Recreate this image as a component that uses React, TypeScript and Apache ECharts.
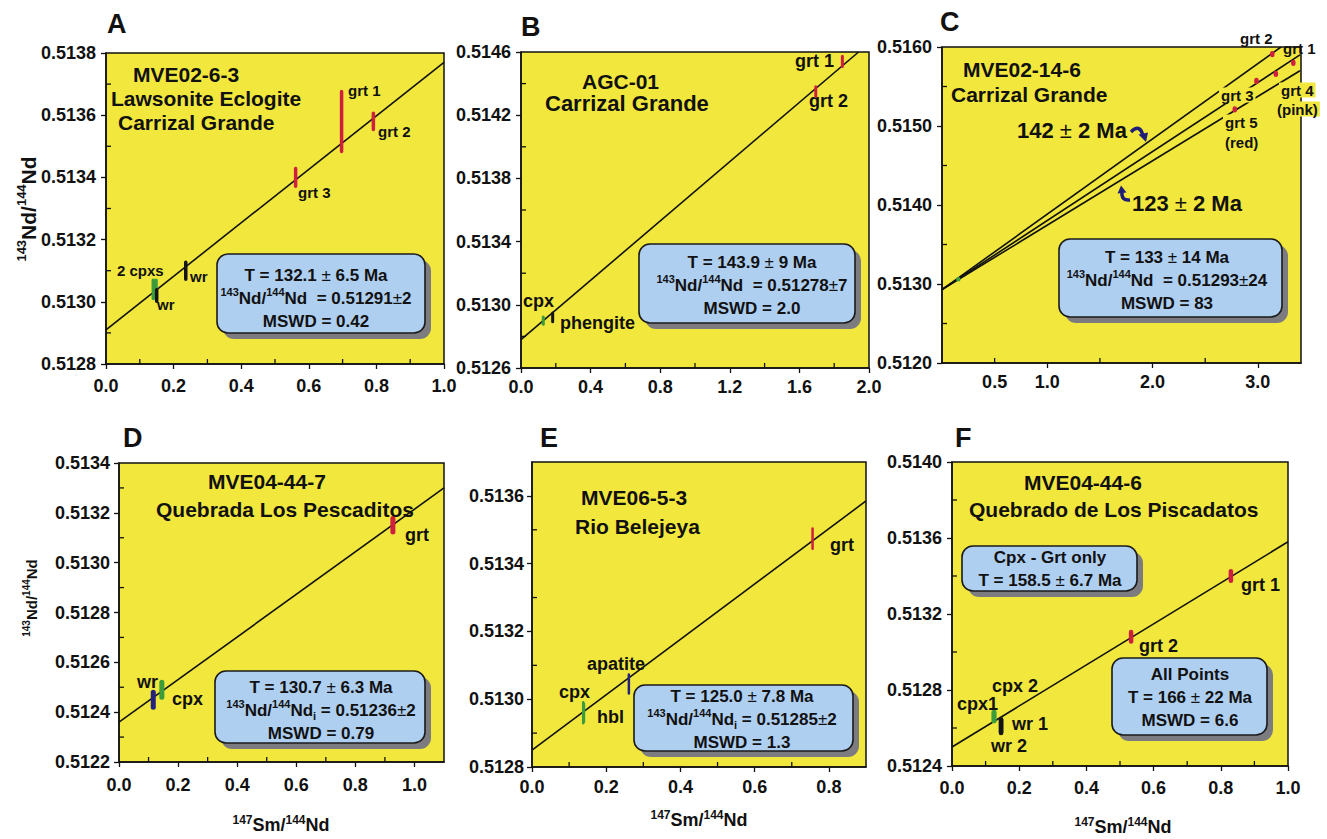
import React, { useEffect, useRef } from 'react';
import * as echarts from 'echarts';

const FF = '"Liberation Sans", Arial, Helvetica, sans-serif';
const INK = '#111111';
const YELLOW = '#f2e83d';
const BOX_BLUE = '#afcff1';
const SHADOW = '#7c7c80';
const NAVY = '#1f1f78';
const KIND_COLORS: Record<string, string> = { grt: '#cf1f3f', cpx: '#3c9c3c', wr: '#23237e', blk: '#141414' };

// ---------- Panel A : MVE02-6-3 ----------
const aSm = [0.14, 0.148, 0.15, 0.236, 0.561, 0.697, 0.791];
const aNd = [0.51304, 0.51304, 0.51302, 0.5131, 0.5134, 0.51358, 0.51358];
const aErr = [0.000035, 0.000035, 0.000024, 0.000033, 0.000034, 0.000102, 0.000032];
const aKind = ['cpx', 'cpx', 'blk', 'blk', 'grt', 'grt', 'grt'];
const aLineSm = [0, 1.0];
const aLineNd = [0.51291, 0.51377];
const aXTicks = [0, 0.2, 0.4, 0.6, 0.8, 1.0];
const aXMinor = [0.1, 0.3, 0.5, 0.7, 0.9];
const aYTicks = [0.5128, 0.513, 0.5132, 0.5134, 0.5136, 0.5138];
const aYMinor = [0.5129, 0.5131, 0.5133, 0.5135, 0.5137];

// ---------- Panel B : AGC-01 ----------
const bSm = [0.128, 0.182, 1.694, 1.847];
const bNd = [0.5129, 0.51292, 0.51435, 0.51454];
const bErr = [0.000032, 0.000037, 0.000039, 0.000042];
const bKind = ['cpx', 'blk', 'grt', 'grt'];
const bLineSm = [0, 1.94];
const bLineNd = [0.51278, 0.5146];
const bXTicks = [0, 0.4, 0.8, 1.2, 1.6, 2.0];
const bXMinor = [0.2, 0.6, 1.0, 1.4, 1.8];
const bYTicks = [0.5126, 0.513, 0.5134, 0.5138, 0.5142, 0.5146];
const bYMinor = [0.5128, 0.5132, 0.5136, 0.514, 0.5144];

// ---------- Panel C : MVE02-14-6 ----------
const cSm = [0.155, 2.781, 2.987, 3.137, 3.171, 3.337];
const cNd = [0.51307, 0.51521, 0.51557, 0.51591, 0.51566, 0.5158];
const cErr = [0.00002, 0.00004, 0.00004, 0.00004, 0.00004, 0.00004];
const cKind = ['cpx', 'grt', 'grt', 'grt', 'grt', 'grt'];
const cUpperSm = [0, 3.22];
const cUpperNd = [0.51293, 0.516];
const cMiddleSm = [0, 3.4];
const cMiddleNd = [0.51293, 0.5159];
const cLowerSm = [0, 3.4];
const cLowerNd = [0.51293, 0.5157];
const cXLabels = [0.5, 1, 2, 3];
const cXTicks = [1, 2, 3];
const cXMinor = [0.5, 1.5, 2.5];
const cYTicks = [0.512, 0.513, 0.514, 0.515, 0.516];
const cYMinor = [0.5125, 0.5135, 0.5145, 0.5155];

// ---------- Panel D : MVE04-44-7 ----------
const dSm = [0.116, 0.145, 0.927];
const dNd = [0.51245, 0.51249, 0.51315];
const dErr = [0.00004, 0.00004, 0.000037];
const dKind = ['wr', 'cpx', 'grt'];
const dLineSm = [0, 1.1];
const dLineNd = [0.51236, 0.5133];
const dXTicks = [0, 0.2, 0.4, 0.6, 0.8, 1.0];
const dXMinor = [0.1, 0.3, 0.5, 0.7, 0.9];
const dYTicks = [0.5122, 0.5124, 0.5126, 0.5128, 0.513, 0.5132, 0.5134];
const dYMinor = [0.5123, 0.5125, 0.5127, 0.5129, 0.5131, 0.5133];

// ---------- Panel E : MVE06-5-3 ----------
const eSm = [0.138, 0.14, 0.261, 0.756];
const eNd = [0.51296, 0.51296, 0.513045, 0.513474];
const eErr = [0.0000345, 0.00003, 0.000032, 0.0000334];
const eKind = ['cpx', 'cpx', 'wr', 'grt'];
const eLineSm = [0, 0.9];
const eLineNd = [0.51285, 0.513585];
const eXTicks = [0, 0.2, 0.4, 0.6, 0.8];
const eXMinor = [0.1, 0.3, 0.5, 0.7];
const eYTicks = [0.5128, 0.513, 0.5132, 0.5134, 0.5136];
const eYMinor = [0.5129, 0.5131, 0.5133, 0.5135];

// ---------- Panel F : MVE04-44-6 ----------
const fSm = [0.124, 0.126, 0.146, 0.146, 0.533, 0.83];
const fNd = [0.51266, 0.51266, 0.51261, 0.51261, 0.51308, 0.5134];
const fErr = [0.000035, 0.000035, 0.000048, 0.000045, 0.000037, 0.000037];
const fKind = ['cpx', 'cpx', 'blk', 'blk', 'grt', 'grt'];
const fLineSm = [0, 1.0];
const fLineNd = [0.5125, 0.51358];
const fXTicks = [0, 0.2, 0.4, 0.6, 0.8, 1.0];
const fXMinor = [0.1, 0.3, 0.5, 0.7, 0.9];
const fYTicks = [0.5124, 0.5128, 0.5132, 0.5136, 0.514];
const fYMinor = [0.5126, 0.513, 0.5134, 0.5138];

// ---------- Result box texts ----------
const boxA = ['{b|T = 132.1 }{pm|±}{b| 6.5 Ma}', '{sup|143}{b|Nd/}{sup|144}{b|Nd  = 0.51291}{pm|±}{b|2}', '{b|MSWD = 0.42}'];
const boxB = ['{b|T = 143.9 }{pm|±}{b| 9 Ma}', '{sup|143}{b|Nd/}{sup|144}{b|Nd  = 0.51278}{pm|±}{b|7}', '{b|MSWD = 2.0}'];
const boxC = ['{b|T = 133 }{pm|±}{b| 14 Ma}', '{sup|143}{b|Nd/}{sup|144}{b|Nd  = 0.51293}{pm|±}{b|24}', '{b|MSWD = 83}'];
const boxD = ['{b|T = 130.7 }{pm|±}{b| 6.3 Ma}', '{sup|143}{b|Nd/}{sup|144}{b|Nd}{sub|i}{b| = 0.51236}{pm|±}{b|2}', '{b|MSWD = 0.79}'];
const boxE = ['{b|T = 125.0 }{pm|±}{b| 7.8 Ma}', '{sup|143}{b|Nd/}{sup|144}{b|Nd}{sub|i}{b| = 0.51285}{pm|±}{b|2}', '{b|MSWD = 1.3}'];
const boxF1 = ['{b|Cpx - Grt only}', '{b|T = 158.5 }{pm|±}{b| 6.7 Ma}'];
const boxF2 = ['{b|All Points}', '{b|T = 166 }{pm|±}{b| 22 Ma}', '{b|MSWD = 6.6}'];

const ND_NAME = '{sup|143}{b|Nd/}{sup|144}{b|Nd}';
const SM_NAME = '{sup|147}{b|Sm/}{sup|144}{b|Nd}';

const PANELS = [
  { xMin: 0, xMax: 1, yMin: 0.5128, yMax: 0.5138, xLabels: aXTicks, xMajor: aXTicks, xMinor: aXMinor, yLabels: aYTicks, yMajor: aYTicks, yMinor: aYMinor, lines: [[aLineSm, aLineNd]], sm: aSm, nd: aNd, err: aErr, kind: aKind },
  { xMin: 0, xMax: 2, yMin: 0.5126, yMax: 0.5146, xLabels: bXTicks, xMajor: bXTicks, xMinor: bXMinor, yLabels: bYTicks, yMajor: bYTicks, yMinor: bYMinor, lines: [[bLineSm, bLineNd]], sm: bSm, nd: bNd, err: bErr, kind: bKind },
  { xMin: 0, xMax: 3.41, yMin: 0.512, yMax: 0.516, xLabels: cXLabels, xMajor: cXTicks, xMinor: cXMinor, yLabels: cYTicks, yMajor: cYTicks, yMinor: cYMinor, lines: [[cUpperSm, cUpperNd], [cMiddleSm, cMiddleNd], [cLowerSm, cLowerNd]], sm: cSm, nd: cNd, err: cErr, kind: cKind },
  { xMin: 0, xMax: 1.1, yMin: 0.5122, yMax: 0.5134, xLabels: dXTicks, xMajor: dXTicks, xMinor: dXMinor, yLabels: dYTicks, yMajor: dYTicks, yMinor: dYMinor, lines: [[dLineSm, dLineNd]], sm: dSm, nd: dNd, err: dErr, kind: dKind },
  { xMin: 0, xMax: 0.9, yMin: 0.5128, yMax: 0.5137, xLabels: eXTicks, xMajor: eXTicks, xMinor: eXMinor, yLabels: eYTicks, yMajor: eYTicks, yMinor: eYMinor, lines: [[eLineSm, eLineNd]], sm: eSm, nd: eNd, err: eErr, kind: eKind },
  { xMin: 0, xMax: 1.0, yMin: 0.5124, yMax: 0.514, xLabels: fXTicks, xMajor: fXTicks, xMinor: fXMinor, yLabels: fYTicks, yMajor: fYTicks, yMinor: fYMinor, lines: [[fLineSm, fLineNd]], sm: fSm, nd: fNd, err: fErr, kind: fKind },
];

// layout (pixels)
const LAYOUT = [
  { left: 106, top: 53, width: 338, height: 311, xm: 13, ym: 10, markW: 3.5 },
  { left: 521, top: 52, width: 348, height: 316, xm: 10, ym: 10, markW: 3 },
  { left: 942, top: 47, width: 359, height: 316, xm: 10, ym: 10, markW: 4.5 },
  { left: 119, top: 463, width: 325, height: 299, xm: 14, ym: 9, markW: 5 },
  { left: 532, top: 462, width: 334, height: 305, xm: 11, ym: 8, markW: 2.5 },
  { left: 952, top: 462, width: 336, height: 304, xm: 13, ym: 10, markW: 4.5 },
];

function richSet(S: number, H: number) {
  const s = Math.round(S * 0.64);
  const base = { fontFamily: FF, fill: INK };
  return {
    b: { ...base, fontSize: S, fontWeight: 'bold', lineHeight: H },
    pm: { ...base, fontSize: S, fontWeight: 'normal', lineHeight: H },
    sup: { ...base, fontSize: s, fontWeight: 'bold', lineHeight: Math.round(H - 0.272 * S) - 1, verticalAlign: 'top' },
    sub: { ...base, fontSize: s, fontWeight: 'bold', lineHeight: Math.round(H - 0.56 * S), verticalAlign: 'bottom' },
  };
}

function label(x: number, y: number, text: string, size: number, extra: any = {}) {
  return {
    type: 'text', x, y, z: 100, silent: true,
    style: { text, fontFamily: FF, fontSize: size, fontWeight: 'bold', fill: INK, align: 'left', verticalAlign: 'middle', ...extra },
  };
}

function richLabel(x: number, y: number, text: string, S: number, align = 'center', rotation = 0, H?: number) {
  const lh = H || Math.round(S * 1.3);
  return {
    type: 'text', x, y, z: 100, silent: true, rotation,
    style: { text, rich: richSet(S, lh), align, verticalAlign: 'middle', fontFamily: FF, fontSize: S, fontWeight: 'bold', fill: INK },
  };
}

function box(x: number, y: number, w: number, h: number, cx: number, cy: number, lines: string[]) {
  return [
    { type: 'rect', z: 100, silent: true, shape: { x: x + 6, y: y + 6, width: w, height: h, r: 11 }, style: { fill: SHADOW } },
    { type: 'rect', z: 101, silent: true, shape: { x, y, width: w, height: h, r: 11 }, style: { fill: BOX_BLUE, stroke: '#1a1a1a', lineWidth: 1.6 } },
    { ...richLabel(cx, cy, lines.join('\n'), 17, 'center', 0, 23), z: 102 },
  ];
}

function buildGraphic() {
  const yb = { backgroundColor: YELLOW, padding: [0, 2] };
  const tight = { lineHeight: 18 };
  const els: any[] = [
    // panel letters
    label(107, 24, 'A', 27), label(521, 27, 'B', 27), label(940, 22, 'C', 27),
    label(123, 438, 'D', 27), label(540, 438, 'E', 27), label(955, 438, 'F', 27),

    // A
    label(133, 74, 'MVE02-6-3', 21), label(111, 98, 'Lawsonite Eclogite', 21), label(118, 122, 'Carrizal Grande', 21),
    label(348, 90, 'grt 1', 15), label(378, 131, 'grt 2', 15), label(298, 192, 'grt 3', 15),
    label(117, 270, '2 cpxs', 15), label(157, 304, 'wr', 15), label(190, 276, 'wr', 15),
    ...box(217, 254, 208, 79, 316, 298, boxA),
    richLabel(28, 209, ND_NAME, 21, 'center', Math.PI / 2),

    // B
    label(582, 81, 'AGC-01', 21, tight), label(545, 103, 'Carrizal Grande', 22, tight),
    label(795, 61, 'grt 1', 18), label(809, 101, 'grt 2', 18), label(523, 301, 'cpx', 18), label(560, 323, 'phengite', 18),
    ...box(639, 244, 216, 79, 752, 285, boxB),

    // C
    label(963, 69, 'MVE02-14-6', 21), label(951, 94, 'Carrizal Grande', 21),
    label(1240, 38, 'grt 2', 15), label(1283, 48, 'grt 1', 15),
    label(1219, 95, 'grt 3', 15, yb), label(1279, 90, 'grt 4', 15, yb), label(1275, 109, '(pink)', 15, yb),
    label(1223, 122, 'grt 5', 15, yb), label(1223, 142, '(red)', 15, yb),
    richLabel(1017, 130, '{b|142 }{pm|±}{b| 2 Ma}', 22, 'left'),
    richLabel(1132, 203, '{b|123 }{pm|±}{b| 2 Ma}', 22, 'left'),
    { type: 'bezierCurve', z: 100, silent: true, shape: { x1: 1131, y1: 132, cpx1: 1140, cpy1: 123, x2: 1143, y2: 136 }, style: { stroke: NAVY, lineWidth: 3.5, fill: null } },
    { type: 'polygon', z: 100, silent: true, shape: { points: [[1138.5, 134.5], [1148, 132.5], [1146, 142]] }, style: { fill: NAVY } },
    { type: 'bezierCurve', z: 100, silent: true, shape: { x1: 1130, y1: 200, cpx1: 1121, cpy1: 201, x2: 1122, y2: 192 }, style: { stroke: NAVY, lineWidth: 3.5, fill: null } },
    { type: 'polygon', z: 100, silent: true, shape: { points: [[1117.5, 193.5], [1126.5, 192.5], [1121, 185.5]] }, style: { fill: NAVY } },
    ...box(1059, 239, 223, 78, 1167, 280, boxC),

    // D
    label(208, 481, 'MVE04-44-7', 21), label(156, 509, 'Quebrada Los Pescaditos', 21),
    label(137, 682, 'wr', 18), label(172, 699, 'cpx', 18), label(405, 535, 'grt', 18),
    ...box(215, 671, 210, 72, 321, 710, boxD),
    richLabel(31, 598, ND_NAME, 15, 'center', Math.PI / 2),
    richLabel(281, 825, SM_NAME, 18),

    // E
    label(581, 497, 'MVE06-5-3', 21), label(575, 526, 'Rio Belejeya', 21),
    label(587, 664, 'apatite', 18), label(559, 692, 'cpx', 18), label(597, 717, 'hbl', 18), label(830, 545, 'grt', 18),
    ...box(634, 685, 219, 66, 742, 719, boxE),
    richLabel(699, 820, SM_NAME, 18),

    // F
    label(1024, 482, 'MVE04-44-6', 21), label(969, 509, 'Quebrado de Los Piscadatos', 21),
    label(957, 704, 'cpx1', 18), label(992, 686, 'cpx 2', 18), label(1012, 724, 'wr 1', 18), label(991, 746, 'wr 2', 18),
    label(1139, 646, 'grt 2', 18), label(1241, 585, 'grt 1', 18),
    ...box(962, 546, 175, 45, 1050, 569, boxF1),
    ...box(1112, 658, 155, 77, 1190, 697, boxF2),
    richLabel(1123, 827, SM_NAME, 18),
  ];
  return els;
}

function buildOption() {
  const series: any[] = [];
  PANELS.forEach((p, i) => {
    const lay = LAYOUT[i];
    p.lines.forEach(([xs, ys]) => {
      series.push({
        type: 'line', xAxisIndex: i, yAxisIndex: i, silent: true, z: 3,
        data: xs.map((x: number, k: number) => [x, ys[k]]),
        symbol: 'none', showSymbol: false,
        lineStyle: { color: INK, width: 1.6 },
      });
    });
    series.push({
      type: 'custom', xAxisIndex: i, yAxisIndex: i, silent: true, z: 4,
      data: p.sm.map((x, k) => [x, p.nd[k], p.err[k]]),
      renderItem: (params: any, api: any) => {
        const x = api.value(0), y = api.value(1), e = api.value(2);
        const t = api.coord([x, y + e]);
        const b = api.coord([x, y - e]);
        const kind = p.kind[params.dataIndex];
        const w = lay.markW;
        return {
          type: 'rect',
          shape: { x: t[0] - w / 2, y: t[1], width: w, height: Math.max(b[1] - t[1], w), r: w / 2 },
          style: { fill: KIND_COLORS[kind] },
        };
      },
    });
    series.push({
      type: 'custom', xAxisIndex: i, yAxisIndex: i, silent: true, z: 2,
      data: p.xMinor.map((v) => [v, p.yMin]),
      renderItem: (params: any, api: any) => {
        const c = api.coord([api.value(0), api.value(1)]);
        return { type: 'line', shape: { x1: c[0], y1: c[1], x2: c[0], y2: c[1] - 5 }, style: { stroke: INK, lineWidth: 1.3 } };
      },
    });
    series.push({
      type: 'custom', xAxisIndex: i, yAxisIndex: i, silent: true, z: 2,
      data: p.yMinor.map((v) => [p.xMin, v]),
      renderItem: (params: any, api: any) => {
        const c = api.coord([api.value(0), api.value(1)]);
        return { type: 'line', shape: { x1: c[0], y1: c[1], x2: c[0] + 5, y2: c[1] }, style: { stroke: INK, lineWidth: 1.3 } };
      },
    });
  });

  const labelFont = { fontFamily: FF, fontSize: 18, fontWeight: 'bold', color: INK };

  return {
    animation: false,
    backgroundColor: '#ffffff',
    grid: LAYOUT.map((g) => ({
      left: g.left, top: g.top, width: g.width, height: g.height,
      show: true, backgroundColor: YELLOW, borderColor: INK, borderWidth: 1.5,
      containLabel: false, outerBoundsMode: 'none',
    })),
    xAxis: PANELS.map((p, i) => ({
      type: 'value', gridIndex: i, min: p.xMin, max: p.xMax, position: 'bottom',
      axisLine: { show: true, onZero: false, lineStyle: { color: INK, width: 1.5 } },
      axisTick: { show: true, inside: false, length: 5, customValues: p.xMajor, lineStyle: { color: INK, width: 1.3 } },
      axisLabel: { show: true, customValues: p.xLabels, margin: LAYOUT[i].xm, ...labelFont, formatter: (v: number) => Number(v).toFixed(1) },
      splitLine: { show: false },
    })),
    yAxis: PANELS.map((p, i) => ({
      type: 'value', gridIndex: i, min: p.yMin, max: p.yMax, position: 'left',
      axisLine: { show: true, onZero: false, lineStyle: { color: INK, width: 1.5 } },
      axisTick: { show: true, inside: false, length: 5, customValues: p.yMajor, lineStyle: { color: INK, width: 1.3 } },
      axisLabel: { show: true, customValues: p.yLabels, margin: LAYOUT[i].ym, ...labelFont, formatter: (v: number) => Number(v).toFixed(4) },
      splitLine: { show: false },
    })),
    series,
    graphic: { elements: buildGraphic() },
  };
}

export default function App() {
  const ref = useRef<HTMLDivElement>(null);
  useEffect(() => {
    document.body.style.margin = '0';
    const chart = echarts.init(ref.current as HTMLDivElement, null, { renderer: 'svg' });
    chart.setOption(buildOption() as any);
    return () => {
      chart.dispose();
    };
  }, []);
  return <div ref={ref} style={{ width: 1327, height: 839 }} />;
}
